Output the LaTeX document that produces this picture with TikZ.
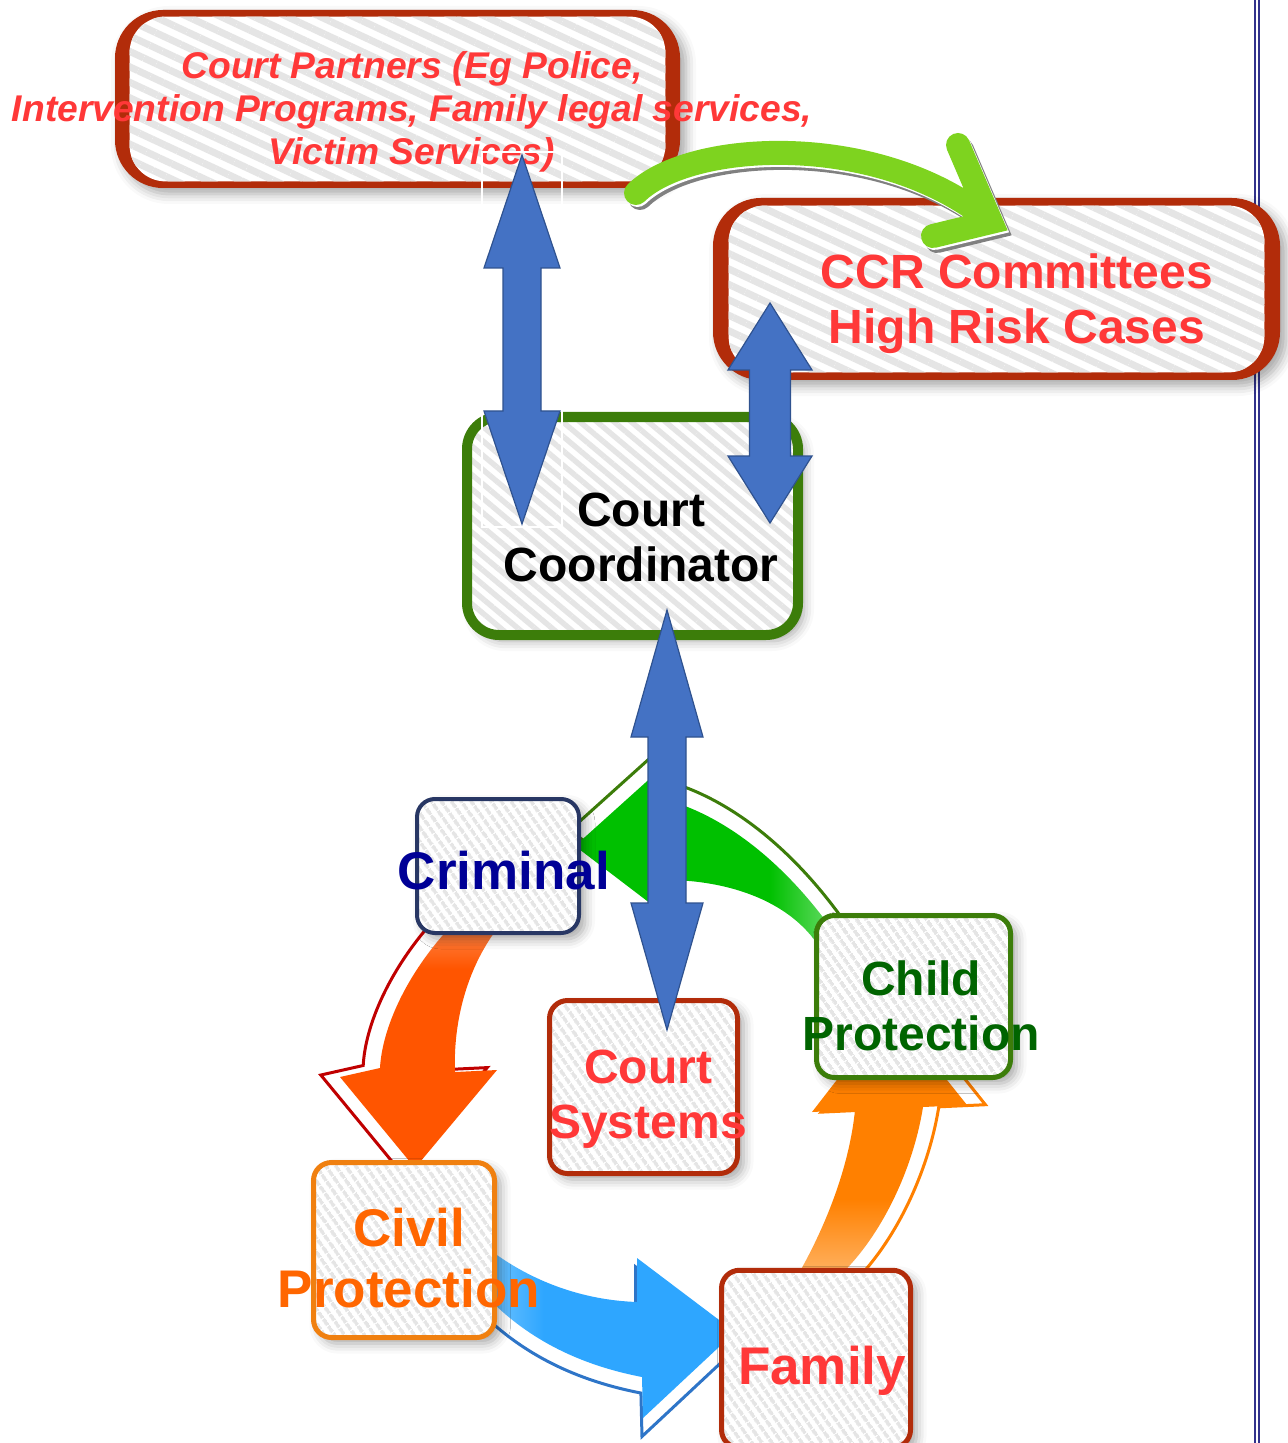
\documentclass[tikz,border=0pt]{standalone}
\usepackage{fontspec}
\setmainfont{Liberation Sans}
\usetikzlibrary{calc,patterns.meta,shadows.blur}

\definecolor{brick}{RGB}{178,44,10}
\definecolor{leaf}{RGB}{60,125,10}
\definecolor{slate}{RGB}{40,55,100}
\definecolor{amber}{RGB}{240,128,16}
\definecolor{stripe}{RGB}{229,229,229}
\definecolor{txtred}{RGB}{255,56,56}
\definecolor{txtblue}{RGB}{0,0,150}
\definecolor{txtgreen}{RGB}{0,100,0}
\definecolor{txtorange}{RGB}{255,102,0}
\definecolor{arrowblue}{RGB}{68,114,196}
\definecolor{arrowblueline}{RGB}{47,82,143}
\definecolor{lime}{RGB}{126,211,31}
\definecolor{gshadow}{RGB}{128,128,128}
\definecolor{cycgreen}{RGB}{0,192,0}
\definecolor{cycgreenlt}{RGB}{110,222,110}
\definecolor{cycred}{RGB}{255,85,0}
\definecolor{cycredlt}{RGB}{255,135,75}
\definecolor{cycredline}{RGB}{192,0,0}
\definecolor{cycblue}{RGB}{46,166,255}
\definecolor{cycbluelt}{RGB}{110,195,255}
\definecolor{cycblueline}{RGB}{46,117,200}
\definecolor{cycorg}{RGB}{255,128,0}
\definecolor{cycorglt}{RGB}{255,182,105}
\definecolor{pagerule}{RGB}{50,50,140}

\pgfdeclarehorizontalshading{greenfade}{100bp}{color(0bp)=(cycgreen); color(62bp)=(cycgreen); color(75bp)=(cycgreenlt); color(100bp)=(cycgreenlt)}
\pgfdeclareverticalshading{redfade}{100bp}{color(0bp)=(cycred); color(66bp)=(cycred); color(75bp)=(cycredlt); color(100bp)=(cycredlt)}
\pgfdeclarehorizontalshading{bluefade}{100bp}{color(0bp)=(cycbluelt); color(25bp)=(cycbluelt); color(36bp)=(cycblue); color(100bp)=(cycblue)}
\pgfdeclareverticalshading{orangefade}{100bp}{color(0bp)=(cycorglt); color(25bp)=(cycorglt); color(40bp)=(cycorg); color(100bp)=(cycorg)}

\tikzset{
  softshadow/.style={blur shadow={shadow xshift=3pt, shadow yshift=-3pt, shadow blur radius=5pt, shadow opacity=35}},
  bigbox/.style={fill=brick, rounded corners=24pt, softshadow},
  bighatch/.style={rounded corners=18pt, preaction={fill=white},
    pattern={Lines[angle=-25,distance=7pt,line width=3.5pt]}, pattern color=stripe},
  coordbox/.style={draw=leaf, line width=5pt, rounded corners=16pt, softshadow,
    preaction={fill=white}, pattern={Lines[angle=-40,distance=5.5pt,line width=2.7pt]}, pattern color=stripe},
  box/.style={draw=#1, line width=2.5pt, rounded corners=9pt, softshadow,
    preaction={fill=white}, pattern={Lines[angle=-55,distance=4pt,line width=2pt]}, pattern color=stripe},
  lbl/.style={inner sep=0pt, align=center, anchor=north, font=\bfseries\fontsize{24pt}{27.5pt}\selectfont},
  biglbl/.style={lbl, font=\bfseries\fontsize{26.5pt}{30.5pt}\selectfont},
  toplbl/.style={lbl, font=\bfseries\itshape\fontsize{18.6pt}{21.5pt}\selectfont},
  ring/.style={draw=#1, line width=1.5pt, fill=white, scale around={1.06:(660,1110)}},
  blockarrow/.style={fill=arrowblue, draw=arrowblueline, line width=0.6pt},
}

\newcommand{\dblarrow}[5]{%
  \draw[blockarrow] let \p1=(#1), \p2=(#2) in
    (\x1,\y1) -- (\x1+#3,\y1-#5) -- (\x1+#4,\y1-#5) -- (\x1+#4,\y2+#5)
    -- (\x1+#3,\y2+#5) -- (\x2,\y2) -- (\x1-#3,\y2+#5) -- (\x1-#4,\y2+#5)
    -- (\x1-#4,\y1-#5) -- (\x1-#3,\y1-#5) -- cycle;}

\newcommand{\greenloop}{(838,938) .. controls (790,868) and (725,812) .. (655,797) -- (655,774) -- (575,846) -- (655,907) -- (655,880) .. controls (725,878) and (790,900) .. (820,948) -- cycle}
\newcommand{\redloop}{(500,925) .. controls (468,965) and (453,1020) .. (455,1072) -- (497,1070) -- (415,1168) -- (340,1077) -- (380,1068) .. controls (382,1030) and (405,975) .. (452,925) -- cycle}
\newcommand{\blueloop}{(490,1250) .. controls (530,1280) and (580,1300) .. (637,1302) -- (637,1258) -- (735,1332) -- (643,1418) -- (642,1377) .. controls (580,1365) and (530,1340) .. (490,1300) -- cycle}
\newcommand{\orangeloop}{(795,1280) .. controls (830,1220) and (850,1160) .. (855,1110) -- (812,1112) -- (891,1010) -- (967,1105) -- (923,1107) .. controls (913,1170) and (880,1240) .. (835,1280) -- cycle}

\begin{document}
\begin{tikzpicture}[x=0.5pt,y=-0.5pt]
\useasboundingbox (0,0) rectangle (1287,1443);
\draw[pagerule, line width=0.6pt] (1255,0) -- (1255,1443) (1259,0) -- (1259,1443);

\draw[ring=leaf] \greenloop;
\shade[shading=greenfade] \greenloop;
\draw[ring=cycredline] \redloop;
\shade[shading=redfade] \redloop;
\draw[ring=cycblueline] \blueloop;
\shade[shading=bluefade] \blueloop;
\draw[ring=cycorg] \orangeloop;
\shade[shading=orangefade] \orangeloop;

\node[bigbox, minimum width=282.5pt, minimum height=89pt] (partners) at (397.5,99) {};
\path[bighatch] ($(partners.north west)+(15,7)$) rectangle ($(partners.south east)+(-15,-7)$);
\node[toplbl, text=txtred] (partnerstext) at (412,51) {Court Partners (Eg Police,\\Intervention Programs, Family legal services,\\Victim Services)};

\node[bigbox, minimum width=283.5pt, minimum height=91pt] (ccr) at (996.5,289) {};
\path[bighatch] ($(ccr.north west)+(16,8)$) rectangle ($(ccr.south east)+(-16,-8)$);
\node[lbl, text=txtred] (ccrtext) at (1017,253) {CCR Committees\\High Risk Cases};

\node[coordbox, minimum width=165.5pt, minimum height=109pt] (coord) at (632.5,526) {};
\node[lbl] (coordtext) at (641,493) {Court\\Coordinator};

\node[box=slate, line width=2pt, minimum width=81pt, minimum height=67pt] (criminal) at (498,866) {};
\node[biglbl, text=txtblue] (criminaltext) at (504,851) {Criminal};

\node[box=leaf, minimum width=97pt, minimum height=81pt] (child) at (913.5,996.5) {};
\node[lbl, text=txtgreen] (childtext) at (921,960) {Child\\Protection};

\node[box=brick, minimum width=94pt, minimum height=86.5pt] (systems) at (643.5,1087) {};
\node[lbl, text=txtred] (systemstext) at (648,1050) {Court\\Systems};

\node[box=amber, minimum width=90.5pt, minimum height=87.5pt] (civil) at (404,1250) {};
\node[biglbl, text=txtorange] (civiltext) at (409,1208) {Civil\\Protection};

\node[box=brick, minimum width=94.5pt, minimum height=88.75pt] (family) at (816,1359) {};
\node[biglbl, text=txtred] (familytext) at (822,1346) {Family};

\coordinate (gstart) at (636,193);
\coordinate (gend) at (991,222);
\foreach \dx/\dy/\col in {4/5/gshadow,1.5/2/white,0/0/lime}
  \draw[\col, line width=12pt, line cap=round, transform canvas={shift={(\dx,\dy)}}]
    (gstart) .. controls (690,140) and (880,130) .. (gend) (958,145) -- (gend) -- (933,236);

\coordinate (pc1) at (522,155);
\coordinate (pc2) at (522,524);
\coordinate (cc1) at (770,303);
\coordinate (cc2) at (770,523);
\coordinate (cs1) at (667,610);
\coordinate (cs2) at (667,1030);
\dblarrow{pc1}{pc2}{19pt}{9.5pt}{56.5pt}
\dblarrow{cc1}{cc2}{21pt}{10.25pt}{33.5pt}
\dblarrow{cs1}{cs2}{18pt}{9.5pt}{63.5pt}
\draw[white, line width=0.8pt] (482,152) rectangle (562,527);
\end{tikzpicture}
\end{document}
